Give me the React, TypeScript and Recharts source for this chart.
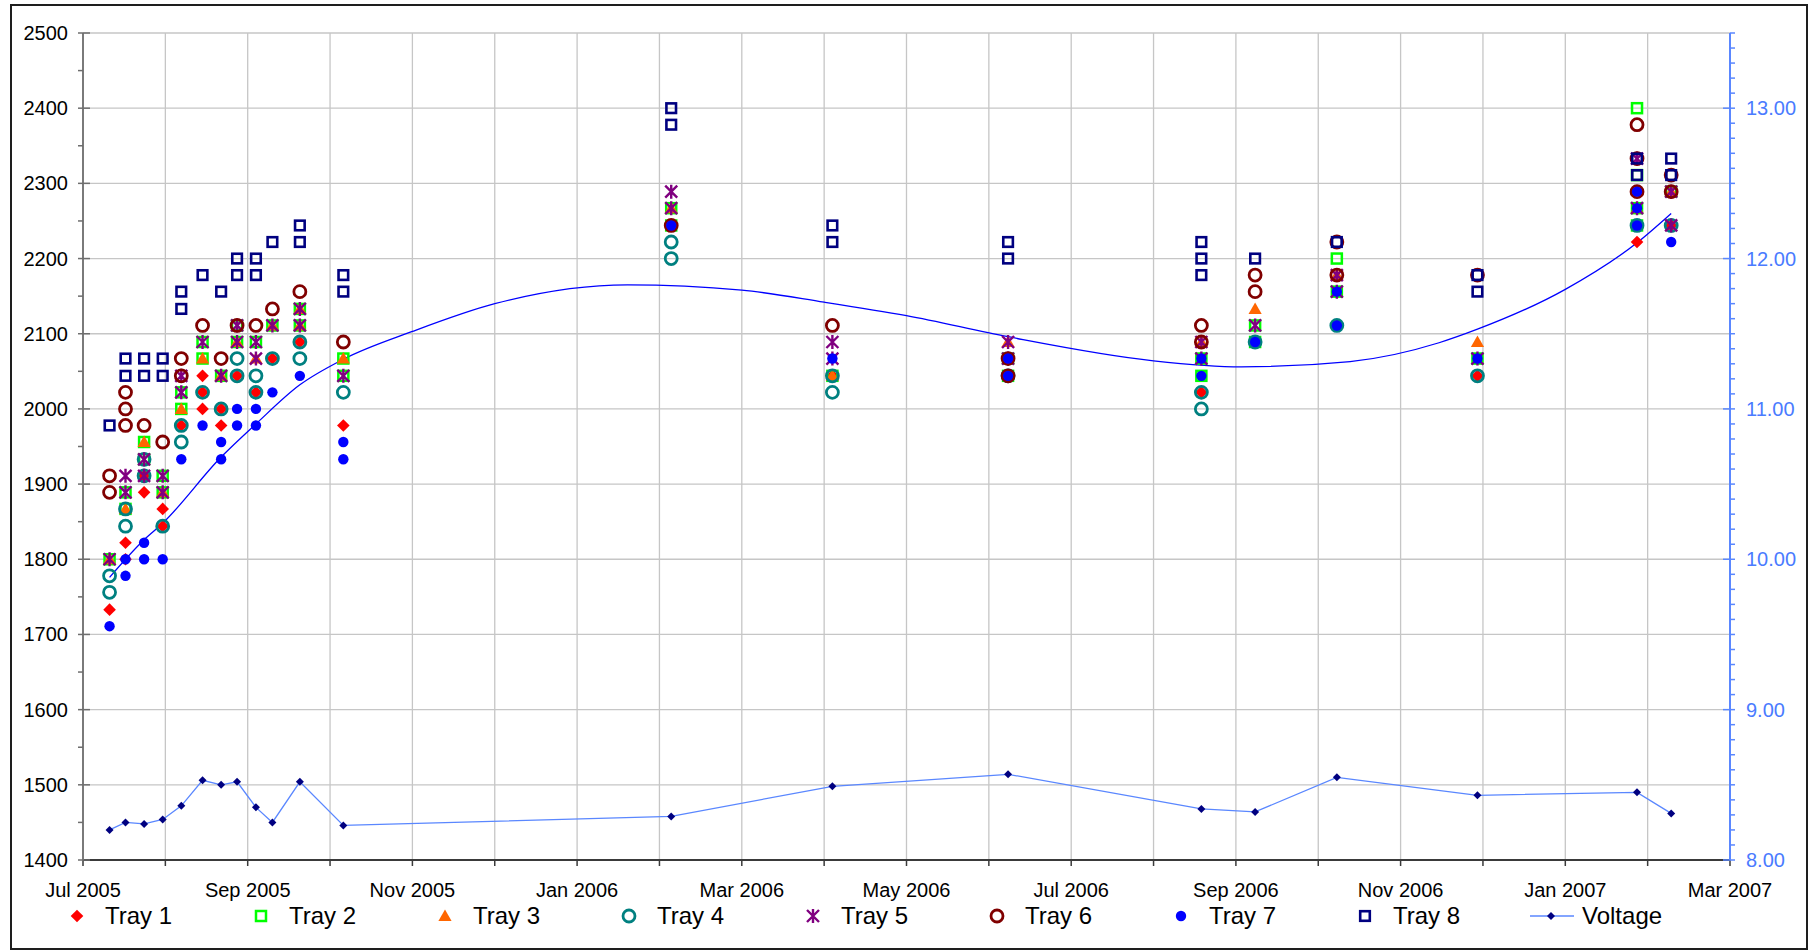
import { ComposedChart, Scatter, Line, XAxis, YAxis, CartesianGrid } from 'recharts'

// sampling dates (one column of markers per date)
const dates = [
  '2005-07-11', '2005-07-17', '2005-07-24', '2005-07-31', '2005-08-07', '2005-08-15',
  '2005-08-22', '2005-08-28', '2005-09-04', '2005-09-10', '2005-09-20', '2005-10-06',
  '2006-02-05', '2006-04-04', '2006-06-08', '2006-08-19', '2006-09-08', '2006-10-08',
  '2006-11-29', '2007-01-28', '2007-02-09',
]

// each tray: readings per date (several cells per tray)
const tray1 = [[1733], [1822, 1800], [1911, 1889], [1867, 1844], [1978], [2044, 2022, 2000], [2000, 1978], [2044], [2022], [2067], [2089], [1978],
  [2244], [2044], [2044], [2022], [2089], [2111], [2044], [2222], [2244]]
const tray2 = [[1800], [1889, 1867], [1956, 1933], [1911, 1889], [2022, 2000], [2089, 2067], [2044], [2111, 2089], [2089], [2111], [2133, 2111], [2067, 2044],
  [2267, 2244], [2044], [2067, 2044], [2067, 2044], [2111, 2089], [2200, 2156], [2067], [2400, 2311, 2267, 2244], [2289]]
const tray3 = [[1800], [1867], [1956], [1889], [2000], [2067], [2044], [2089], [2067], [2111], [2133, 2111], [2067],
  [2267], [2044], [2089], [2089], [2133], [2178], [2089], [2267], [2289]]
const tray4 = [[1778, 1756], [1867, 1844], [1933, 1911], [1844], [1978, 1956], [2022], [2000], [2067, 2044], [2044, 2022], [2067], [2089, 2067], [2022],
  [2222, 2200], [2044, 2022], [2044], [2022, 2000], [2089], [2111], [2044], [2244], [2244]]
const tray5 = [[1800], [1911, 1889], [1933, 1911], [1911, 1889], [2044, 2022], [2089], [2044], [2111, 2089], [2089, 2067], [2111], [2133, 2111], [2044],
  [2289, 2267], [2089, 2067], [2089, 2067], [2089, 2067], [2111], [2178, 2156], [2067], [2333, 2267], [2289, 2244]]
const tray6 = [[1911, 1889], [2022, 2000, 1978], [1978], [1956], [2067, 2044], [2111], [2067], [2111], [2111], [2133], [2156], [2089],
  [2244], [2111], [2067, 2044], [2111, 2089], [2178, 2156], [2222, 2178], [2178], [2378, 2333, 2289], [2311, 2289]]
const tray7 = [[1711], [1800, 1778], [1822, 1800], [1800], [1933], [1978], [1956, 1933], [2000, 1978], [2000, 1978], [2022], [2044], [1956, 1933],
  [2244], [2067], [2067, 2044], [2067, 2044], [2089], [2156, 2111], [2067], [2289, 2267, 2244], [2222]]
const tray8 = [[1978], [2067, 2044], [2067, 2044], [2067, 2044], [2156, 2133], [2178], [2156], [2200, 2178], [2200, 2178], [2222], [2244, 2222], [2178, 2156],
  [2400, 2378], [2244, 2222], [2222, 2200], [2222, 2200, 2178], [2200], [2222], [2178, 2156], [2333, 2311], [2333, 2311]]

const voltage = [8.20, 8.25, 8.24, 8.27, 8.36, 8.53, 8.50, 8.52, 8.35, 8.25, 8.52, 8.23,
  8.29, 8.49, 8.57, 8.34, 8.32, 8.55, 8.43, 8.45, 8.31]

// polynomial trendline
const trendDates = ['2005-07-11', '2005-07-24', '2005-07-31', '2005-08-22', '2005-09-04', '2005-09-20', '2005-10-06', '2005-11-01',
  '2005-12-01', '2006-01-20', '2006-03-01', '2006-04-01', '2006-05-01', '2006-06-08', '2006-08-01', '2006-09-03', '2006-10-13',
  '2006-11-15', '2006-11-29', '2007-01-01', '2007-01-28', '2007-02-09']
const trendValues = [1776, 1826, 1848, 1936, 1980, 2032, 2066, 2103,
  2140, 2165, 2158, 2142, 2124, 2096, 2064, 2056, 2063,
  2088, 2106, 2159, 2221, 2260]

const xTickLabels = ['Jul 2005', 'Sep 2005', 'Nov 2005', 'Jan 2006', 'Mar 2006', 'May 2006', 'Jul 2006', 'Sep 2006', 'Nov 2006', 'Jan 2007', 'Mar 2007']
const monthTicks = Array.from({ length: 21 }, (_, i) => i)
const leftMajorTicks = [1400, 1500, 1600, 1700, 1800, 1900, 2000, 2100, 2200, 2300, 2400, 2500]
const leftTicks = [...leftMajorTicks, ...leftMajorTicks.slice(0, -1).map(t => t + 50)].sort((a, b) => a - b)
const rightTicks = Array.from({ length: 56 }, (_, i) => (80 + i) / 10)

// months since Jul 2005, the axis is evenly spaced per month
function monthPos(d: string) {
  const [y, m, day] = d.split('-').map(Number)
  const dim = new Date(y, m, 0).getDate()
  return (y - 2005) * 12 + (m - 7) + (day - 1) / dim
}

const toPoints = (values: number[][]) =>
  values.flatMap((vals, i) => vals.map(y => ({ x: monthPos(dates[i]), y })))

const trendData = trendDates.map((d, i) => ({ x: monthPos(d), y: trendValues[i] }))
const voltageData = dates.map((d, i) => ({ x: monthPos(d), v: voltage[i] }))

const FONT = '"Liberation Sans", Arial, sans-serif'

type M = { cx: number; cy: number }

const markers: Record<string, (p: M) => JSX.Element> = {
  diamond: ({ cx, cy }) => <path d={`M${cx},${cy - 6.3}L${cx + 6.3},${cy}L${cx},${cy + 6.3}L${cx - 6.3},${cy}Z`} fill="#ff0000" />,
  lime: ({ cx, cy }) => <rect x={cx - 5} y={cy - 5} width={10} height={10} fill="none" stroke="#00ff00" strokeWidth={2.5} />,
  triangle: ({ cx, cy }) => <path d={`M${cx},${cy - 6.5}L${cx + 6.6},${cy + 5}L${cx - 6.6},${cy + 5}Z`} fill="#ff6600" />,
  teal: ({ cx, cy }) => <circle cx={cx} cy={cy} r={6} fill="none" stroke="#008080" strokeWidth={2.8} />,
  star: ({ cx, cy }) => (
    <path d={`M${cx - 6},${cy - 6}L${cx + 6},${cy + 6}M${cx - 6},${cy + 6}L${cx + 6},${cy - 6}M${cx},${cy - 7}L${cx},${cy + 7}`}
      stroke="#800080" strokeWidth={2.4} fill="none" />
  ),
  maroon: ({ cx, cy }) => <circle cx={cx} cy={cy} r={6} fill="none" stroke="#800000" strokeWidth={2.8} />,
  dot: ({ cx, cy }) => <circle cx={cx} cy={cy} r={5.2} fill="#0000ff" />,
  navy: ({ cx, cy }) => <rect x={cx - 4.8} y={cy - 4.8} width={9.6} height={9.6} fill="none" stroke="#000080" strokeWidth={2.6} />,
}

const trays = [
  { name: 'Tray 1', values: tray1, marker: 'diamond' },
  { name: 'Tray 2', values: tray2, marker: 'lime' },
  { name: 'Tray 3', values: tray3, marker: 'triangle' },
  { name: 'Tray 4', values: tray4, marker: 'teal' },
  { name: 'Tray 5', values: tray5, marker: 'star' },
  { name: 'Tray 6', values: tray6, marker: 'maroon' },
  { name: 'Tray 7', values: tray7, marker: 'dot' },
  { name: 'Tray 8', values: tray8, marker: 'navy' },
]

const voltDiamond = ({ cx, cy }: M) => <path d={`M${cx},${cy - 4}L${cx + 4},${cy}L${cx},${cy + 4}L${cx - 4},${cy}Z`} fill="#000080" />

function XTick({ x, y, payload }: any) {
  const m = payload.value
  if (m % 2 !== 0) return <g />
  return (
    <text x={x} y={y + 31} textAnchor="middle" fontSize={20} fontFamily={FONT} fill="#000">
      {xTickLabels[m / 2]}
    </text>
  )
}

function LeftTick({ x, y, payload }: any) {
  const v = payload.value
  const major = v % 100 === 0
  return (
    <g>
      <line x1={x - 5} x2={major ? x + 7 : x} y1={y} y2={y} stroke="#6e6e6e" strokeWidth={1.5} />
      {major && (
        <text x={x - 15} y={y} dy="0.35em" textAnchor="end" fontSize={20} fontFamily={FONT} fill="#000">{v}</text>
      )}
    </g>
  )
}

function RightTick({ x, y, payload }: any) {
  const v = payload.value
  const major = Math.abs(v - Math.round(v)) < 1e-6
  return (
    <g>
      <line x1={major ? x - 7 : x} x2={x + 5} y1={y} y2={y} stroke="#5a87ff" strokeWidth={1.5} />
      {major && (
        <text x={x + 16} y={y} dy="0.35em" textAnchor="start" fontSize={20} fontFamily={FONT} fill="#4a7bff">{v.toFixed(2)}</text>
      )}
    </g>
  )
}

function LegendRow() {
  return (
    <>
      {trays.map((t, i) => {
        const cx = 77 + i * 184
        return (
          <div key={t.name} style={{ position: 'absolute', left: cx - 15, top: 901, height: 30, display: 'flex', alignItems: 'center' }}>
            <svg width={30} height={30}>{markers[t.marker]({ cx: 15, cy: 15 })}</svg>
            <span style={{ marginLeft: 13, fontSize: 24, lineHeight: '30px', fontFamily: FONT, color: '#000' }}>{t.name}</span>
          </div>
        )
      })}
      <div style={{ position: 'absolute', left: 1551 - 22, top: 901, height: 30, display: 'flex', alignItems: 'center' }}>
        <svg width={46} height={30}>
          <line x1={1} x2={45} y1={15} y2={15} stroke="#5a87ff" strokeWidth={1.3} />
          {voltDiamond({ cx: 22, cy: 15 })}
        </svg>
        <span style={{ marginLeft: 7, fontSize: 24, lineHeight: '30px', fontFamily: FONT, color: '#000' }}>Voltage</span>
      </div>
    </>
  )
}

export default function App() {
  return (
    <div style={{ position: 'fixed', left: 0, top: 0, width: 1809, height: 950, background: '#fff', overflow: 'hidden' }}>
      <ComposedChart width={1809} height={950} margin={{ top: 33, right: 0, bottom: 50, left: 0 }}>
        <CartesianGrid yAxisId="left" stroke="#c6c6c6" strokeWidth={1.3} horizontalValues={leftMajorTicks} />
        <XAxis
          type="number"
          dataKey="x"
          domain={[0, 20]}
          ticks={monthTicks}
          interval={0}
          height={40}
          tickSize={6}
          tickMargin={0}
          axisLine={{ stroke: '#3a3a3a', strokeWidth: 2 }}
          tickLine={{ stroke: '#3a3a3a', strokeWidth: 1.5 }}
          tick={(p: any) => <XTick {...p} />}
        />
        <YAxis
          yAxisId="left"
          type="number"
          dataKey="y"
          domain={[1400, 2500]}
          ticks={leftTicks}
          interval={0}
          width={83}
          tickSize={0}
          tickMargin={0}
          tickLine={false}
          axisLine={{ stroke: '#7a7a7a', strokeWidth: 2 }}
          tick={(p: any) => <LeftTick {...p} />}
        />
        <YAxis
          yAxisId="right"
          orientation="right"
          type="number"
          dataKey="v"
          domain={[8, 13.5]}
          ticks={rightTicks}
          interval={0}
          width={79}
          tickSize={0}
          tickMargin={0}
          tickLine={false}
          axisLine={{ stroke: '#5a87ff', strokeWidth: 2 }}
          tick={(p: any) => <RightTick {...p} />}
        />
        {trays.map(t => (
          <Scatter
            key={t.name}
            name={t.name}
            yAxisId="left"
            data={toPoints(t.values)}
            shape={(p: any) => markers[t.marker]({ cx: p.cx, cy: p.cy })}
            isAnimationActive={false}
          />
        ))}
        <Line
          yAxisId="left"
          data={trendData}
          dataKey="y"
          type="monotone"
          stroke="#0000ff"
          strokeWidth={1.3}
          dot={false}
          isAnimationActive={false}
        />
        <Line
          yAxisId="right"
          data={voltageData}
          dataKey="v"
          type="linear"
          stroke="#5a87ff"
          strokeWidth={1.3}
          dot={(p: any) => <g key={p.index}>{voltDiamond({ cx: p.cx, cy: p.cy })}</g>}
          activeDot={false}
          isAnimationActive={false}
        />
      </ComposedChart>
      <div style={{ position: 'absolute', left: 10, top: 4, width: 1798, height: 946, border: '2px solid #1e1e1e', boxSizing: 'border-box', pointerEvents: 'none' }} />
      <LegendRow />
    </div>
  )
}
